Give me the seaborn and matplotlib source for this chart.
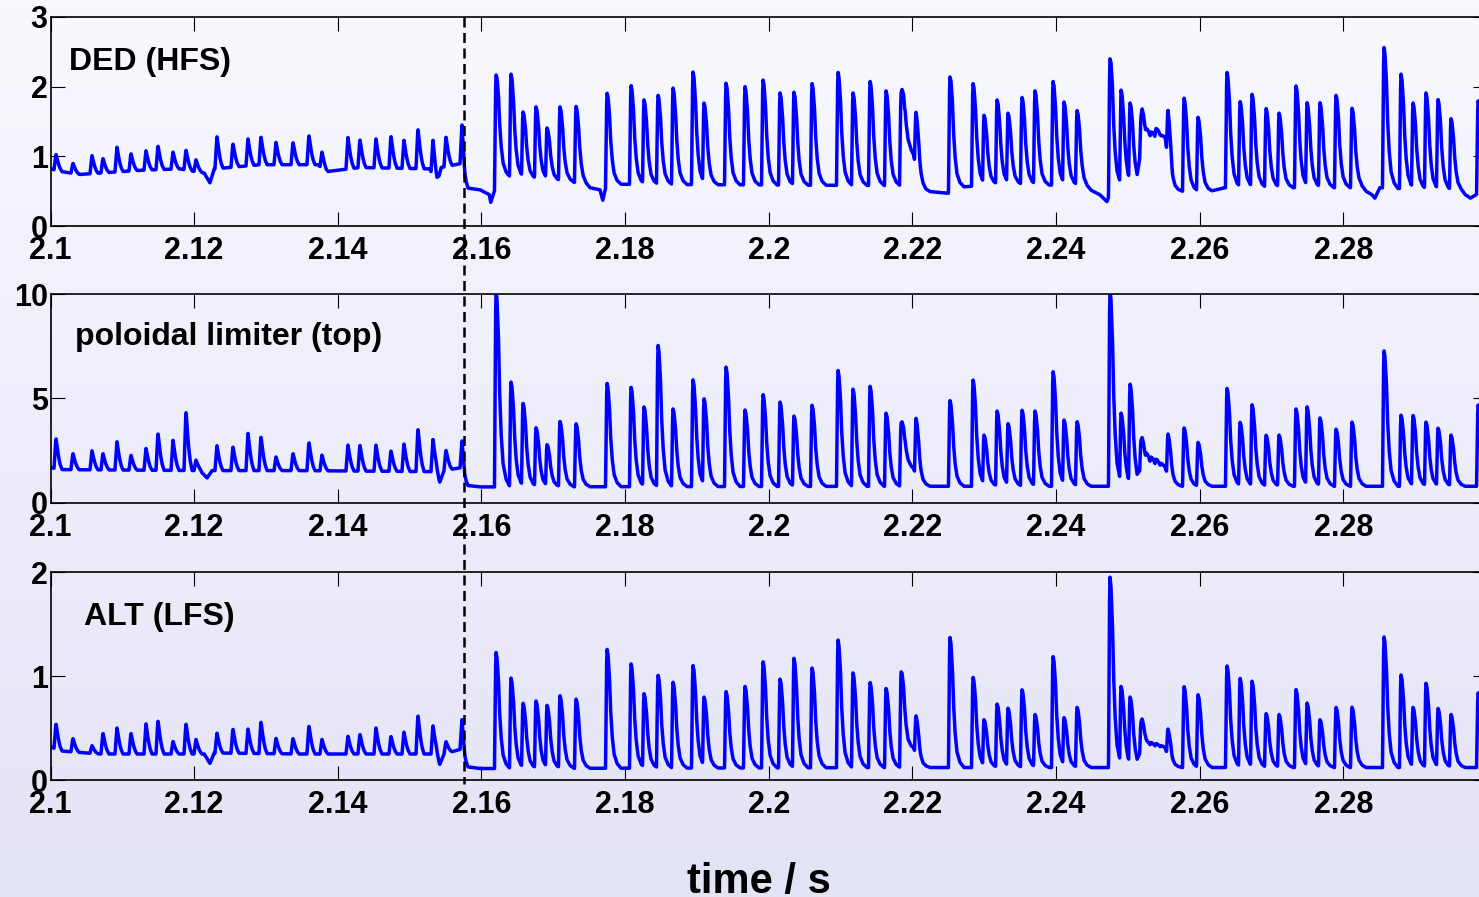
import numpy as np
import pandas as pd
import matplotlib
matplotlib.use("Agg")
import matplotlib.pyplot as plt
import matplotlib.transforms as mtransforms
from matplotlib.lines import Line2D
import seaborn as sns

# ---------------- data ----------------
# small bursts before the ELM onset (time in s) and their peak values
pre_times = [2.10077, 2.10313, 2.10578, 2.10731, 2.10926, 2.11121, 2.11330, 2.11497,
             2.11706, 2.11887, 2.12026, 2.12318, 2.12541, 2.12750, 2.12931, 2.13140,
             2.13377, 2.13599, 2.13780, 2.14142, 2.14309, 2.14532, 2.14741, 2.14922,
             2.15117, 2.15326, 2.15507, 2.15730]
ded_pre_peaks = [1.03, 0.90, 1.01, 0.97, 1.13, 1.04, 1.08, 1.15, 1.06, 1.09, 0.95, 1.28,
                 1.18, 1.25, 1.28, 1.20, 1.20, 1.30, 1.06, 1.27, 1.24, 1.25, 1.29, 1.23,
                 1.39, 1.23, 1.28, 1.45]
lim_pre_peaks = [3.09, 2.37, 2.50, 2.37, 2.93, 2.29, 2.61, 3.33, 3.00, 4.37, 2.05, 2.74,
                 2.69, 3.33, 3.17, 2.20, 2.37, 2.90, 2.29, 2.77, 2.77, 2.77, 2.50, 2.82,
                 3.54, 3.04, 2.53, 2.97]
alt_pre_peaks = [0.54, 0.40, 0.33, 0.45, 0.50, 0.45, 0.54, 0.57, 0.37, 0.54, 0.39, 0.45,
                 0.49, 0.49, 0.56, 0.40, 0.40, 0.52, 0.39, 0.42, 0.44, 0.50, 0.42, 0.46,
                 0.62, 0.52, 0.37, 0.58]

# ELM events (time in s) and peak values per channel
elm_times = [2.16203, 2.16412, 2.16579, 2.16760, 2.16913, 2.17094, 2.17317, 2.17749,
             2.18083, 2.18264, 2.18459, 2.18668, 2.18946, 2.19099, 2.19406, 2.19670,
             2.19921, 2.20158, 2.20352, 2.20603, 2.20965, 2.21174, 2.21411, 2.21634,
             2.21843, 2.22051, 2.22524, 2.22845, 2.22998, 2.23180, 2.23332, 2.23527,
             2.23708, 2.23959, 2.24112, 2.24293, 2.24752, 2.24906, 2.25031, 2.25184,
             2.25254, 2.25323, 2.25393, 2.25463, 2.25560, 2.25783, 2.25978, 2.26381,
             2.26563, 2.26730, 2.26925, 2.27106, 2.27342, 2.27496, 2.27676, 2.27899,
             2.28122, 2.28567, 2.28804, 2.28971, 2.29152, 2.29319, 2.29500, 2.29877]
ded_elm_peaks = [2.17, 2.18, 1.64, 1.71, 1.41, 1.71, 1.72, 1.91, 2.02, 1.81,
                 1.88, 1.98, 2.21, 1.77, 2.05, 2.00, 2.10, 1.91, 1.92, 2.05,
                 2.21, 1.91, 2.08, 1.94, 1.91, 1.64, 2.14, 2.05, 1.59, 1.81,
                 1.62, 1.85, 1.94, 2.08, 1.78, 1.66, 2.40, 1.95, 1.77, 1.58,
                 1.40, 1.35, 1.40, 1.30, 1.66, 1.84, 1.56, 2.21, 1.79, 1.89,
                 1.69, 1.62, 2.01, 1.77, 1.77, 1.88, 1.69, 2.57, 2.18, 1.77,
                 1.91, 1.82, 1.54, 1.80]
lim_elm_peaks = [10.2, 5.79, 4.78, 3.60, 2.80, 3.90, 3.80, 5.74, 5.55, 4.60,
                 7.56, 4.50, 5.89, 5.00, 6.50, 4.45, 5.20, 4.83, 4.16, 4.69,
                 6.36, 5.45, 5.60, 4.30, 3.83, 4.07, 4.90, 5.90, 3.25, 4.40,
                 3.80, 4.45, 4.40, 6.30, 3.97, 3.90, 10.2, 4.30, 5.70, 3.00,
                 2.40, 2.20, 2.10, 1.90, 3.30, 3.60, 2.90, 5.50, 3.87, 4.70,
                 3.25, 3.25, 4.50, 4.60, 4.07, 3.54, 3.87, 7.30, 4.20, 4.20,
                 3.87, 3.59, 3.25, 4.70]
alt_elm_peaks = [1.23, 0.98, 0.74, 0.76, 0.72, 0.81, 0.78, 1.26, 1.12, 0.83,
                 1.01, 0.94, 1.10, 0.80, 0.85, 0.90, 1.14, 0.97, 1.17, 1.08,
                 1.35, 1.03, 0.94, 0.88, 1.04, 0.62, 1.37, 0.99, 0.58, 0.73,
                 0.69, 0.87, 0.63, 1.19, 0.60, 0.70, 1.95, 0.90, 0.80, 0.56,
                 0.38, 0.36, 0.35, 0.33, 0.49, 0.90, 0.82, 1.10, 0.98, 0.95,
                 0.64, 0.63, 0.87, 0.74, 0.58, 0.70, 0.70, 1.38, 1.01, 0.70,
                 0.93, 0.69, 0.63, 0.84]

# background level of each channel (anchor times in s and values)
ded_base_t = [2.1000, 2.1016, 2.1041, 2.1069, 2.1125, 2.1180, 2.1214, 2.1222, 2.1228,
              2.1292, 2.1372, 2.1384, 2.1431, 2.1528, 2.1538, 2.1544, 2.1573, 2.1577,
              2.1598, 2.1611, 2.1613, 2.1618, 2.1626, 2.1737, 2.1751, 2.1765, 2.1769,
              2.1773, 2.1782, 2.2183, 2.2190, 2.2202, 2.2211, 2.2218, 2.2250, 2.2255,
              2.2322, 2.2436, 2.2461, 2.2471, 2.2478, 2.2513, 2.2520, 2.2552, 2.2562,
              2.2615, 2.2635, 2.2823, 2.2840, 2.2844, 2.2851, 2.2963, 2.2977, 2.2985,
              2.3000]
ded_base_v = [0.82, 0.78, 0.74, 0.76, 0.80, 0.82, 0.76, 0.62, 0.82, 0.88, 0.88, 0.78,
              0.84, 0.82, 0.60, 0.84, 0.90, 0.55, 0.52, 0.45, 0.34, 0.50, 0.72, 0.62,
              0.55, 0.52, 0.37, 0.55, 0.60, 0.58, 1.15, 1.00, 0.55, 0.50, 0.47, 0.55,
              0.60, 0.58, 0.45, 0.35, 0.55, 0.60, 1.20, 1.25, 0.50, 0.50, 0.55, 0.55,
              0.45, 0.40, 0.55, 0.50, 0.40, 0.45, 0.55]
lim_base_t = [2.1000, 2.1013, 2.1208, 2.1218, 2.1225, 2.1347, 2.1537, 2.1542, 2.1548,
              2.1573, 2.1577, 2.1598, 2.2183, 2.2190, 2.2202, 2.2211, 2.2513, 2.2520,
              2.2552, 2.2562, 2.3000]
lim_base_v = [1.70, 1.60, 1.55, 1.20, 1.55, 1.55, 1.50, 1.00, 1.55, 1.70, 0.85, 0.77,
              0.80, 1.80, 1.60, 0.80, 0.80, 1.80, 1.60, 0.80, 0.80]
alt_base_t = [2.1000, 2.1013, 2.1069, 2.1214, 2.1222, 2.1228, 2.1347, 2.1537, 2.1542,
              2.1548, 2.1573, 2.1577, 2.1598, 2.2183, 2.2190, 2.2202, 2.2211, 2.2513,
              2.2520, 2.2552, 2.2562, 2.3000]
alt_base_v = [0.32, 0.28, 0.25, 0.25, 0.16, 0.26, 0.25, 0.25, 0.15, 0.25, 0.30, 0.13,
              0.11, 0.12, 0.28, 0.30, 0.12, 0.12, 0.32, 0.30, 0.12, 0.12]

panel_labels = ["DED (HFS)", "poloidal limiter (top)", "ALT (LFS)"]
x_ticks = [2.10, 2.12, 2.14, 2.16, 2.18, 2.20, 2.22, 2.24, 2.26, 2.28]
x_tick_labels = ["2.1", "2.12", "2.14", "2.16", "2.18", "2.2", "2.22", "2.24", "2.26", "2.28"]
ded_yticks = [0, 1, 2, 3]
lim_yticks = [0, 5, 10]
alt_yticks = [0, 1, 2]
elm_onset = 2.15758
x_label = "time / s"

# ---------------- build traces ----------------
PX = 1.3924e-4  # seconds per screen pixel (shape of one burst, style only)
elm_dt = np.array([-1.5, -0.5, 0, 1, 2.5, 3.5, 5, 7, 10, 14]) * PX
elm_rel = np.array([0, 0.85, 1, 0.95, 0.75, 0.5, 0.28, 0.12, 0.04, 0])
pre_dt = np.array([-2, -0.6, 0, 1, 2.5, 4, 6]) * PX
pre_rel = np.array([0, 0.8, 1, 0.75, 0.42, 0.18, 0])

t = np.arange(2.1, 2.3, 0.00002)


def trace(base_t, base_v, groups):
    base = np.interp(t, base_t, base_v)
    env = np.zeros_like(t)
    for times, peaks, dt, rel in groups:
        for ti, pk in zip(times, peaks):
            amp = max(pk - np.interp(ti, base_t, base_v), 0.0)
            env = np.maximum(env, amp * np.interp(t - ti, dt, rel, left=0, right=0))
    return base + env


ded = trace(ded_base_t, ded_base_v, [(pre_times, ded_pre_peaks, pre_dt, pre_rel),
                                     (elm_times, ded_elm_peaks, elm_dt, elm_rel)])
lim = trace(lim_base_t, lim_base_v, [(pre_times, lim_pre_peaks, pre_dt, pre_rel),
                                     (elm_times, lim_elm_peaks, elm_dt, elm_rel)])
alt = trace(alt_base_t, alt_base_v, [(pre_times, alt_pre_peaks, pre_dt, pre_rel),
                                     (elm_times, alt_elm_peaks, elm_dt, elm_rel)])

df = pd.concat([
    pd.DataFrame({"t": t, "v": ded, "ch": "ded"}),
    pd.DataFrame({"t": t, "v": lim, "ch": "lim"}),
    pd.DataFrame({"t": t, "v": alt, "ch": "alt"}),
])

# ---------------- figure ----------------
sns.set_style("ticks")
plt.rcParams["font.family"] = ["Liberation Sans", "DejaVu Sans"]
plt.rcParams["font.weight"] = "bold"
plt.rcParams["axes.linewidth"] = 1.2

W, H = 1479, 897
fig = plt.figure(figsize=(W / 100, H / 100), dpi=100)

# background gradient
bg = fig.add_axes([0, 0, 1, 1], zorder=-10)
top_c = np.array([248, 248, 254]) / 255
bot_c = np.array([227, 227, 246]) / 255
g = np.linspace(0, 1, 256)[:, None, None]
grad = top_c[None, None, :] * (1 - g) + bot_c[None, None, :] * g
bg.imshow(grad, aspect="auto", extent=[0, 1, 0, 1])
bg.set_axis_off()

left = 50.5 / W
width = (1486.9 - 50.5) / W
panels = [
    ("ded", (0, 3), ded_yticks, 226, 209, (0.0129, 0.785)),
    ("lim", (0, 10), lim_yticks, 503, 209, (0.0171, 0.795)),
    ("alt", (0, 2), alt_yticks, 780, 208, (0.0233, 0.783)),
]
axes = []
for (ch, ylim, yt, ybot, hgt, txtpos), lab in zip(panels, panel_labels):
    ax = fig.add_axes([left, 1 - ybot / H, width, hgt / H])
    ax.set_facecolor("none")
    sns.lineplot(data=df[df["ch"] == ch], x="t", y="v", ax=ax, color="#0000ff",
                 linewidth=2.5, estimator=None, sort=False, legend=False)
    ax.set_xlim(2.1, 2.3)
    ax.set_ylim(*ylim)
    ax.set_xticks(x_ticks)
    ax.set_xticklabels(x_tick_labels)
    ax.set_yticks(yt)
    ax.set_yticklabels([str(v) for v in yt])
    ax.set_xlabel("")
    ax.set_ylabel("")
    ax.tick_params(direction="in", length=10, width=0.8, top=True, right=True,
                   labelsize=22, colors="black")
    ax.tick_params(axis="x", pad=7)
    ax.tick_params(axis="y", pad=2)
    for s in ax.spines.values():
        s.set_visible(True)
        s.set_color("black")
    for tl in ax.get_xticklabels() + ax.get_yticklabels():
        tl.set_fontweight("bold")
    ax.text(txtpos[0], txtpos[1], lab, transform=ax.transAxes, ha="left", va="center",
            fontsize=23, fontweight="bold", color="black")
    axes.append(ax)

# dashed ELM-onset line spanning all panels
trans = mtransforms.blended_transform_factory(axes[0].transData, fig.transFigure)
fig.add_artist(Line2D([elm_onset, elm_onset], [1 - 17 / H, 1 - 784 / H], transform=trans,
                      color="black", linewidth=1.8, linestyle=(0, (4, 2.2)), zorder=5))

fig.text(759 / W, 4 / H, x_label, ha="center", va="baseline", fontsize=30,
         fontweight="bold", color="black")

fig.savefig("out.png", dpi=100)
